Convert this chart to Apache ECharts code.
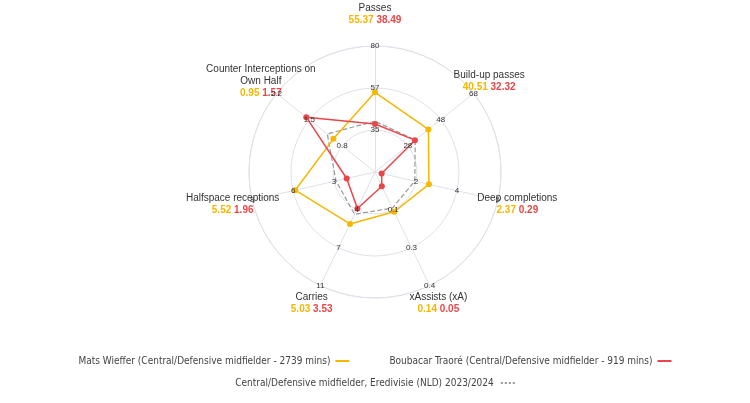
<!DOCTYPE html>
<html><head><meta charset="utf-8">
<script src="https://cdn.jsdelivr.net/npm/echarts@6/dist/echarts.min.js"></script>
<style>html,body{margin:0;padding:0;background:#fff}#c{width:750px;height:403px}</style>
</head><body><div id="c"></div>
<script>
// indicators in counter-clockwise order starting from top
var names = ['Passes', 'Counter Interceptions on\nOwn Half', 'Halfspace receptions', 'Carries', 'xAssists (xA)', 'Deep completions', 'Build-up passes']
var mins = [13, 0, 0, 0, 0, 0, 8]
var maxs = [80, 2.25, 8.5, 11, 0.4, 5.4, 68]
var tickLabels = [['35', '57', '80'], ['0.8', '1.5', '2.2'], ['3', '6', '8'], ['4', '7', '11'], ['0.1', '0.3', '0.4'], ['2', '4', '5'], ['28', '48', '68']]
var mats = [55.37, 0.95, 5.52, 5.03, 0.14, 2.37, 40.51]
var traore = [38.49, 1.57, 1.96, 3.53, 0.05, 0.29, 32.32]
var league = [40, 1.09, 2.7, 4.1, 0.127, 1.75, 32.5]
var matsName = 'Mats Wieffer (Central/Defensive midfielder - 2739 mins)'
var traoreName = 'Boubacar Traoré (Central/Defensive midfielder - 919 mins)'
var leagueName = 'Central/Defensive midfielder, Eredivisie (NLD) 2023/2024'

var YEL = '#f5b700', RED = '#e8474a', GREY = '#999'
var cx = 375, cy = 172, R = 126

var chart = echarts.init(document.getElementById('c'))
var graphics = []
names.forEach(function (n, i) {
	var a = (90 + i * 360 / 7) * Math.PI / 180
	tickLabels[i].forEach(function (t, k) {
		var r = R * (k + 1) / 3
		graphics.push({type: 'text', x: cx + r * Math.cos(a), y: cy - r * Math.sin(a), z: 10,
			style: {text: t, fill: '#333', font: '8px sans-serif', align: 'center', verticalAlign: 'middle'}})
	})
})
var legText = {fontFamily: 'Liberation Sans Narrow, DejaVu Sans Condensed, sans-serif', fontSize: 10, color: '#444'}
chart.setOption({
	animation: false,
	legend: [{
		top: 351, left: 'center', itemGap: 40, icon: 'rect', itemWidth: 14, itemHeight: 2, align: 'right',
		textStyle: legText, data: [matsName, traoreName]
	}, {
		top: 373, left: 'center', align: 'right', itemWidth: 18, itemHeight: 2, textStyle: legText,
		data: [{name: leagueName, icon: 'path://M0,0h2v2h-2zM4,0h2v2h-2zM8,0h2v2h-2zM12,0h2v2h-2z'}]
	}],
	radar: {
		center: [cx, cy], radius: R, startAngle: 90, splitNumber: 3, shape: 'circle',
		indicator: names.map(function (n, i) { return {name: n, min: mins[i], max: maxs[i]} }),
		axisName: {
			formatter: function (n) {
				var i = names.indexOf(n)
				return n + '\n{y|' + mats[i] + '} {r|' + traore[i] + '}'
			},
			color: '#333', fontSize: 10, lineHeight: 12, align: 'center',
			rich: {y: {color: YEL, fontSize: 10, fontWeight: 'bold'}, r: {color: RED, fontSize: 10, fontWeight: 'bold'}}
		},
		nameGap: 20,
		splitLine: {lineStyle: {color: '#dde1e8', width: 1}},
		splitArea: {show: false},
		axisLine: {lineStyle: {color: '#dde1e8'}}
	},
	graphic: graphics,
	series: [{
		type: 'radar', z: 3,
		data: [
			{name: leagueName, value: league, symbol: 'none', lineStyle: {color: GREY, type: 'dashed', width: 1.2}, itemStyle: {color: GREY}},
			{name: matsName, value: mats, symbol: 'circle', symbolSize: 6, lineStyle: {color: YEL, width: 1.5}, itemStyle: {color: YEL}},
			{name: traoreName, value: traore, symbol: 'circle', symbolSize: 6, lineStyle: {color: RED, width: 1.5}, itemStyle: {color: RED}}
		]
	}]
})
</script></body></html>
